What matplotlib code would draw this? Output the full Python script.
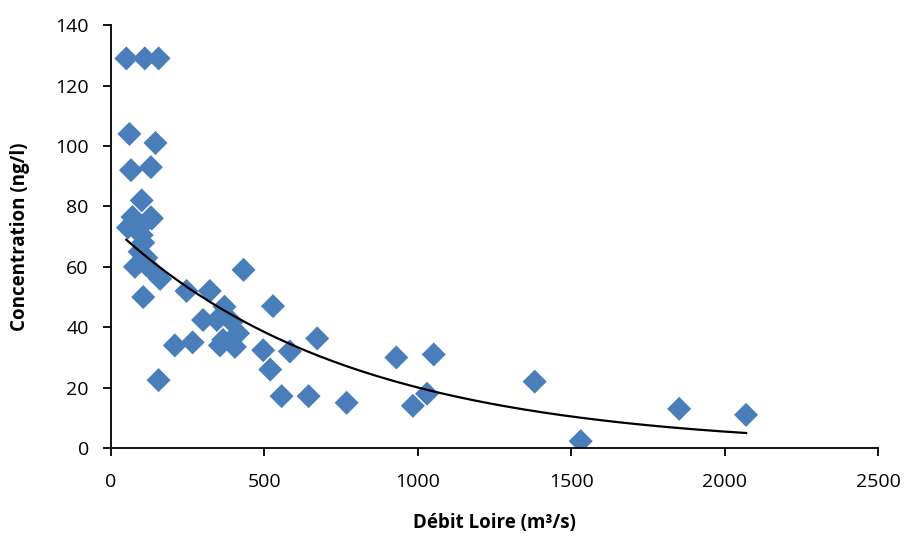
import numpy as np
import matplotlib
matplotlib.use("Agg")
import matplotlib.pyplot as plt

plt.rcParams['font.family'] = ['Open Sans', 'DejaVu Sans']

# Data: Loire discharge (m3/s) vs concentration (ng/l)
debit = [50, 110, 155, 60, 145, 65, 130, 100, 133, 70, 130, 55, 93, 100, 105,
         93, 115, 78, 115, 160, 142, 105, 246, 322, 432, 300, 345, 370, 394,
         414, 365, 404, 355, 266, 208, 496, 528, 519, 583, 155, 556, 672,
         644, 768, 930, 1052, 1030, 984, 1381, 1852, 1531, 2070]
concentration = [129, 129, 129, 104, 101, 92, 93, 82, 76, 76.5, 76.4, 73, 73,
                 70.5, 68, 65, 63, 60, 60.6, 56, 58, 50, 52, 52, 59, 42.4, 42.4,
                 46.8, 41.8, 38, 35.8, 33.5, 34, 35, 34, 32.4, 47, 26, 32, 22.5,
                 17.2, 36.3, 17.2, 15, 30, 31, 18, 14, 22, 13, 2.3, 11]

# Exponential trend line parameters (y = a * exp(-k x))
trend_a = 73.6
trend_k = 0.0013

x_ticks = [0, 500, 1000, 1500, 2000, 2500]
y_ticks = [0, 20, 40, 60, 80, 100, 120, 140]

fig = plt.figure(figsize=(9.07, 5.36), dpi=100)
ax = fig.add_axes([0.1224, 0.164, 0.8456, 0.789])

ax.scatter(debit, concentration, marker='D', s=150, color='#4a7ebb',
           edgecolors='none', zorder=2)

xt = np.linspace(min(debit), max(debit), 300)
ax.plot(xt, trend_a * np.exp(-trend_k * xt), color='black', lw=1.6, zorder=3)

ax.set_xlim(0, 2500)
ax.set_ylim(0, 140)
ax.set_xticks(x_ticks)
ax.set_yticks(y_ticks)
for s in ['top', 'right']:
    ax.spines[s].set_visible(False)
for s in ['left', 'bottom']:
    ax.spines[s].set_linewidth(1.3)
    ax.spines[s].set_color('black')
ax.tick_params(axis='both', direction='out', length=6, width=1.3,
               labelsize=14, colors='black')
ax.tick_params(axis='y', pad=10)
ax.tick_params(axis='x', pad=12)
ax.set_xlabel('Débit Loire (m³/s)', fontsize=13.5, fontweight='bold', labelpad=16)
ax.set_ylabel('Concentration (ng/l)', fontsize=13.5, fontweight='bold', labelpad=18)

fig.savefig('out.png', dpi=100)
